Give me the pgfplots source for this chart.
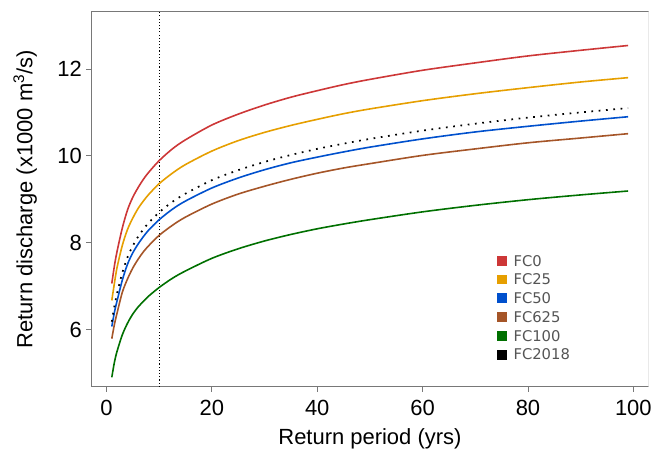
\documentclass[border=0pt]{standalone}
\usepackage{fontspec}
\setmainfont{Liberation Sans}
\newfontfamily\legfont{DejaVu Sans}
\usepackage{pgfplots}
\usepackage{pgfplotstable}
\pgfplotsset{compat=1.18}
\definecolor{cRed}{RGB}{205,55,55}
\definecolor{cOrange}{RGB}{230,159,0}
\definecolor{cBlue}{RGB}{0,80,205}
\definecolor{cBrown}{RGB}{165,85,40}
\definecolor{cGreen}{RGB}{0,112,0}
\definecolor{cAxis}{RGB}{120,120,120}
\definecolor{cLeg}{RGB}{85,85,85}
\pgfplotstableread{
T    FCa   FCb   FCc   FCd   FCe   FCf
1    7.06  6.67  6.07  5.79  4.90  6.18
1.5  7.47  7.07  6.40  6.12  5.25  6.54
2    7.80  7.43  6.66  6.38  5.50  6.83
3    8.34  7.94  7.14  6.86  5.88  7.31
4    8.76  8.31  7.51  7.17  6.15  7.67
5    9.05  8.57  7.77  7.42  6.36  7.93
6    9.27  8.79  7.97  7.62  6.52  8.14
7    9.46  8.96  8.14  7.79  6.65  8.31
8    9.62  9.11  8.29  7.93  6.77  8.46
10   9.89  9.36  8.53  8.17  6.97  8.70
12.5 10.16 9.60  8.77  8.40  7.18  8.94
15   10.37 9.80  8.96  8.59  7.35  9.13
20   10.71 10.11 9.26  8.89  7.64  9.44
25   10.96 10.35 9.49  9.12  7.86  9.67
30   11.17 10.54 9.68  9.30  8.04  9.86
35   11.35 10.70 9.84  9.46  8.19  10.02
40   11.50 10.84 9.97  9.60  8.32  10.16
45   11.64 10.97 10.09 9.72  8.43  10.28
50   11.76 11.08 10.20 9.82  8.53  10.39
60   11.97 11.27 10.39 10.01 8.71  10.58
70   12.14 11.43 10.55 10.16 8.86  10.74
80   12.30 11.57 10.68 10.30 8.99  10.88
90   12.43 11.70 10.80 10.41 9.10  11.00
99   12.54 11.80 10.90 10.51 9.19  11.10
}\datatable
\begin{document}
\begin{tikzpicture}
\path[use as bounding box] (-68.5pt,-53.5pt) rectangle (432.75pt,290.75pt);
\begin{axis}[
  at={(0,0)}, anchor=south west,
  scale only axis, width=419pt, height=282pt,
  xmin=-2.92, xmax=102.92, ymin=4.68, ymax=13.32,
  axis x line*=bottom, axis y line*=left,
  axis line style={cAxis, line width=0.7pt},
  xtick={0,20,40,60,80,100}, ytick={6,8,10,12},
  tick align=outside, major tick length=3.5pt,
  tick style={cAxis, line width=0.7pt},
  /pgf/number format/assume math mode=true,
  ticklabel style={font=\fontsize{16.5}{19}\selectfont},
  xticklabel style={yshift=-3pt},
  label style={font=\fontsize{16.5}{19}\selectfont},
  xlabel={Return period (yrs)},
  ylabel={Return discharge (x1000 m\textsuperscript{3}/s)},
  xlabel style={at={(axis description cs:0.5,-0.1383)}, anchor=center},
  ylabel style={at={(axis description cs:-0.1184,0.5)}, anchor=center, rotate=0},
  legend style={draw=none, fill=none, inner sep=0pt, at={(0.728,0.351)}, anchor=north west,
    font=\legfont\fontsize{11.1}{13}\selectfont, text=cLeg,
    nodes={inner sep=0pt, text height=8pt, text depth=0pt},
    column sep=4.7pt, row sep=6.1pt},
  legend cell align=left,
  legend image code/.code={\fill[#1, solid] (0pt,-3.1pt) rectangle (6.2pt,3.1pt);},
]
\draw[cAxis, line width=0.7pt] (rel axis cs:0,1) -- (rel axis cs:1,1);
\draw[cAxis!25, line width=0.7pt] (rel axis cs:1,0) -- (rel axis cs:1,1);
\addplot[black, line width=0.6pt, dash pattern=on 0.8pt off 1.6pt, forget plot] coordinates {(10,4.68) (10,13.32)};
\addplot[cRed, line width=1.2pt, smooth] table[x=T, y=FCa] {\datatable};
\addlegendentry{FC0}
\addplot[cOrange, line width=1.2pt, smooth] table[x=T, y=FCb] {\datatable};
\addlegendentry{FC25}
\addplot[cBlue, line width=1.2pt, smooth] table[x=T, y=FCc] {\datatable};
\addlegendentry{FC50}
\addplot[cBrown, line width=1.2pt, smooth] table[x=T, y=FCd] {\datatable};
\addlegendentry{FC625}
\addplot[cGreen, line width=1.2pt, smooth] table[x=T, y=FCe] {\datatable};
\addlegendentry{FC100}
\addplot[black, line width=1.3pt, dash pattern=on 1.3pt off 4.2pt, smooth] table[x=T, y=FCf] {\datatable};
\addlegendentry{FC2018}
\end{axis}
\end{tikzpicture}
\end{document}
